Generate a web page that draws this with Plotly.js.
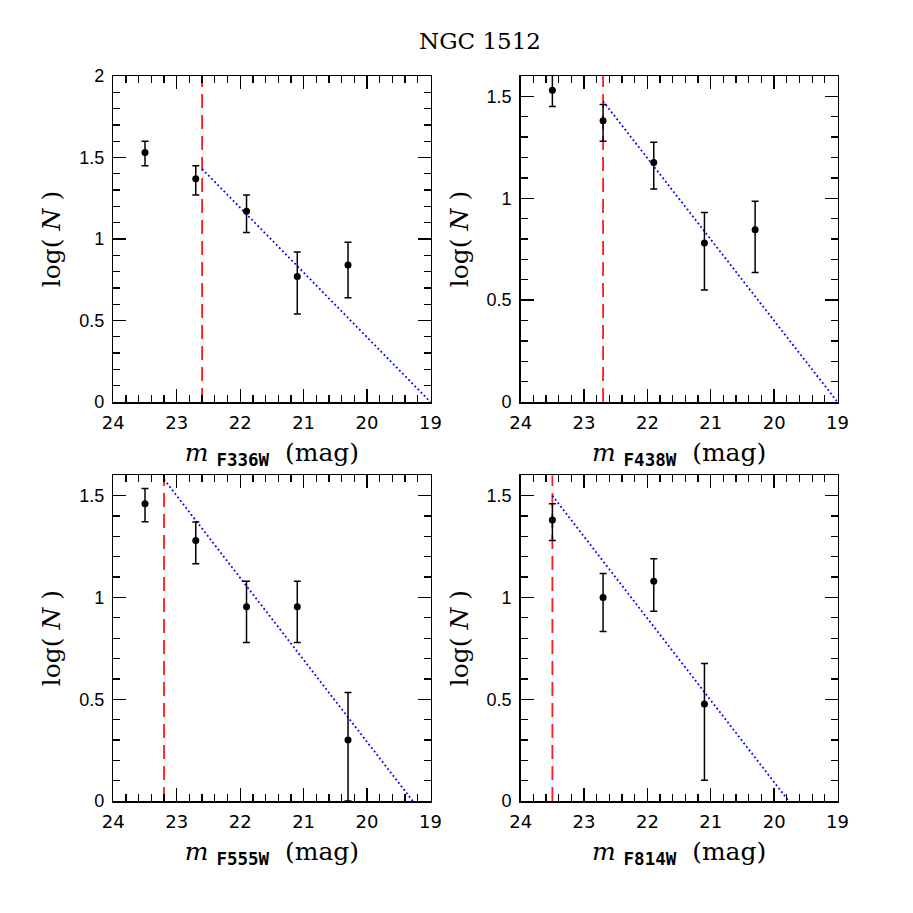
<!DOCTYPE html>
<html>
<head>
<meta charset="utf-8">
<script src="https://cdn.plot.ly/plotly-3.0.1.min.js"></script>
<style>
  html, body { margin: 0; padding: 0; background: #fff; }
  #chart { width: 913px; height: 913px; }
</style>
</head>
<body>
<div id="chart"></div>
<script>
// === Datos ===
const filtros = ["F336W", "F438W", "F555W", "F814W"];

const mag336 = [23.5, 22.7, 21.9, 21.1, 20.3];
const logN336 = [1.53, 1.37, 1.17, 0.77, 0.84];
const errHi336 = [0.07, 0.08, 0.10, 0.15, 0.14];
const errLo336 = [0.08, 0.10, 0.13, 0.23, 0.20];

const mag438 = [23.5, 22.7, 21.9, 21.1, 20.3];
const logN438 = [1.53, 1.38, 1.175, 0.78, 0.845];
const errHi438 = [0.08, 0.08, 0.10, 0.15, 0.14];
const errLo438 = [0.08, 0.10, 0.13, 0.23, 0.21];

const mag555 = [23.5, 22.7, 21.9, 21.1, 20.3];
const logN555 = [1.46, 1.28, 0.954, 0.954, 0.30];
const errHi555 = [0.075, 0.09, 0.125, 0.125, 0.233];
const errLo555 = [0.088, 0.115, 0.175, 0.175, 0.30];

const mag814 = [23.5, 22.7, 21.9, 21.1];
const logN814 = [1.38, 1.00, 1.08, 0.476];
const errHi814 = [0.08, 0.118, 0.11, 0.20];
const errLo814 = [0.10, 0.167, 0.148, 0.374];

// magnitud límite (línea roja) y recta de ajuste (línea azul)
const corte = [22.6, 22.7, 23.2, 23.5];
const ajusteX = [[22.6, 19.0], [22.7, 19.0], [23.2, 19.28], [23.5, 19.77]];
const ajusteY = [[1.43, 0], [1.476, 0], [1.58, 0], [1.5, 0]];
const yMax = [2, 1.6, 1.6, 1.6];

const paneles = [
  { x: mag336, y: logN336, hi: errHi336, lo: errLo336 },
  { x: mag438, y: logN438, hi: errHi438, lo: errLo438 },
  { x: mag555, y: logN555, hi: errHi555, lo: errLo555 },
  { x: mag814, y: logN814, hi: errHi814, lo: errLo814 }
];

// === Geometría de los paneles (px en la ventana de 913) ===
const W = 913;
const cols = [[113.3, 430.5], [520.7, 837.5]];
const rows = [[76, 402], [475.3, 801]];

const serif = "DejaVu Serif";
const subStyle = "font-family:'DejaVu Sans Mono';font-weight:bold;font-size:13px";

const traces = [];
const layout = {
  width: W,
  height: W,
  margin: { l: 0, r: 0, t: 0, b: 0 },
  paper_bgcolor: "white",
  plot_bgcolor: "white",
  showlegend: false,
  title: {
    text: "NGC 1512",
    font: { family: serif, size: 23, color: "black" },
    x: 480 / W,
    xanchor: "center",
    y: 1 - 41 / W,
    yanchor: "middle"
  }
};

paneles.forEach((p, i) => {
  const n = i === 0 ? "" : String(i + 1);
  const xa = "x" + n, ya = "y" + n;
  const col = cols[i % 2], row = rows[Math.floor(i / 2)];

  // línea de corte (roja, discontinua)
  traces.push({
    x: [corte[i], corte[i]],
    y: [0, yMax[i]],
    xaxis: xa, yaxis: ya,
    mode: "lines",
    line: { color: "#ff1a1a", width: 1.8, dash: "14px,7px" },
    hoverinfo: "skip"
  });

  // recta de ajuste (azul, punteada)
  traces.push({
    x: ajusteX[i],
    y: ajusteY[i],
    xaxis: xa, yaxis: ya,
    mode: "lines",
    line: { color: "#0000ff", width: 1.8, dash: "1.8px,2.6px" },
    hoverinfo: "skip"
  });

  // puntos con barras de error
  traces.push({
    x: p.x,
    y: p.y,
    xaxis: xa, yaxis: ya,
    mode: "markers",
    marker: { color: "black", size: 7 },
    error_y: {
      type: "data",
      symmetric: false,
      array: p.hi,
      arrayminus: p.lo,
      color: "black",
      thickness: 1.5,
      width: 3.5
    }
  });

  layout["xaxis" + n] = {
    domain: [col[0] / W, col[1] / W],
    anchor: ya,
    range: [24, 19],
    tick0: 0,
    dtick: 1,
    ticks: "inside",
    ticklen: 13,
    tickwidth: 1.3,
    tickcolor: "black",
    minor: { dtick: 0.2, ticks: "inside", ticklen: 7, tickwidth: 1.3, tickcolor: "black" },
    showline: true,
    linecolor: "black",
    linewidth: 1.5,
    mirror: "allticks",
    showgrid: false,
    zeroline: false,
    tickfont: { family: "DejaVu Sans", size: 18, color: "black" },
    ticklabelstandoff: 4,
    title: {
      text: "<i>m</i> <sub style=\"" + subStyle + "\">" + filtros[i] + "</sub>  (mag)",
      font: { family: serif, size: 25, color: "black" },
      standoff: 11
    },
    automargin: false
  };

  layout["yaxis" + n] = {
    domain: [1 - row[1] / W, 1 - row[0] / W],
    anchor: xa,
    range: [0, yMax[i]],
    tick0: 0,
    dtick: 0.5,
    ticks: "inside",
    ticklen: 13,
    tickwidth: 1.3,
    tickcolor: "black",
    minor: { dtick: 0.1, ticks: "inside", ticklen: 7, tickwidth: 1.3, tickcolor: "black" },
    showline: true,
    linecolor: "black",
    linewidth: 1.5,
    mirror: "allticks",
    showgrid: false,
    zeroline: false,
    tickfont: { family: "Liberation Sans", size: 18, color: "black" },
    ticklabelstandoff: 4,
    title: {
      text: "log( <i>N</i> )",
      font: { family: serif, size: 25, color: "black" },
      standoff: 11
    },
    automargin: false
  };
});

Plotly.newPlot("chart", traces, layout, { displayModeBar: false, staticPlot: true });
</script>
</body>
</html>
